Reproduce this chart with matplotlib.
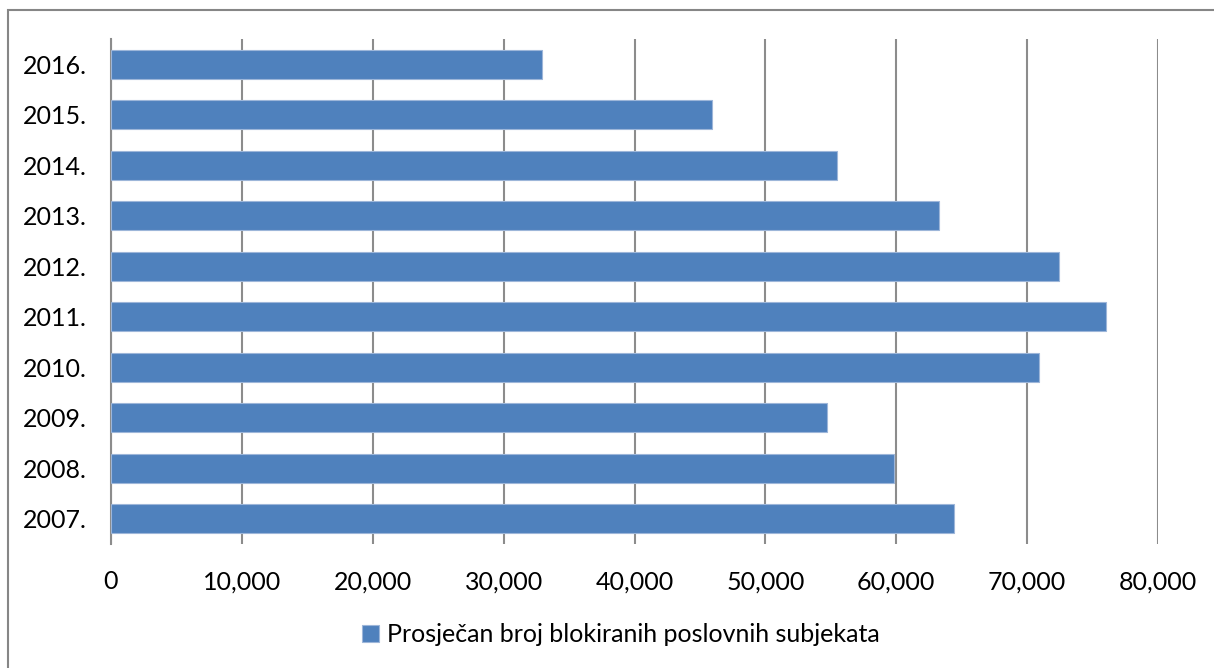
import matplotlib
matplotlib.use("Agg")
import matplotlib.pyplot as plt
from matplotlib.patches import Rectangle
from matplotlib.ticker import FuncFormatter

years = ["2007.", "2008.", "2009.", "2010.", "2011.", "2012.", "2013.", "2014.", "2015.", "2016."]
values = [64400, 59800, 54700, 70900, 76000, 72400, 63300, 55500, 45900, 32900]
series_name = "Prosječan broj blokiranih poslovnih subjekata"
x_ticks = [0, 10000, 20000, 30000, 40000, 50000, 60000, 70000, 80000]

W, H, DPI = 1214, 668, 100
plt.rcParams["font.family"] = ["Lato", "DejaVu Sans"]
FS = 18

fig = plt.figure(figsize=(W / DPI, H / DPI), dpi=DPI)
fig.patch.set_facecolor("white")

# chart area border (only top and left edges fall inside the image)
fig.patches.append(Rectangle((8 / W, -0.1), 1.2, 1 - 10 / H + 0.1,
                             transform=fig.transFigure, fill=False,
                             edgecolor="#868686", linewidth=1.5))

left, right, top, bottom = 111 / W, 1158 / W, 1 - 39 / H, 1 - 544 / H
ax = fig.add_axes([left, bottom, right - left, top - bottom])

grid_c = "#8C8C8C"
bars = ax.barh(range(len(years)), values, height=1 / 1.75, color="#4F81BD",
               edgecolor="#9DB6D9", linewidth=0.8, label=series_name, zorder=3)

ax.set_xlim(0, 80000)
ax.set_ylim(-0.5, len(years) - 0.5)
ax.set_xticks(x_ticks)
ax.xaxis.set_major_formatter(FuncFormatter(lambda v, p: f"{int(v):,}"))
ax.set_yticks(range(len(years)))
ax.set_yticklabels(years)
ax.grid(axis="x", color=grid_c, linewidth=1.5, zorder=0)
ax.set_axisbelow(True)

for s in ["top", "right", "bottom"]:
    ax.spines[s].set_visible(False)
ax.spines["left"].set_color(grid_c)
ax.spines["left"].set_linewidth(1.5)
ax.tick_params(axis="both", length=0, labelsize=FS, colors="black")
ax.tick_params(axis="x", pad=19)
ax.tick_params(axis="y", pad=17.5)

leg = fig.legend(handles=[bars], labels=[series_name], loc="center",
                 bbox_to_anchor=(621 / W, 1 - 635 / H), frameon=False,
                 fontsize=FS, handlelength=0.68, handleheight=0.68,
                 handletextpad=0.3, borderpad=0)

fig.savefig("out.png", dpi=DPI, facecolor="white")
